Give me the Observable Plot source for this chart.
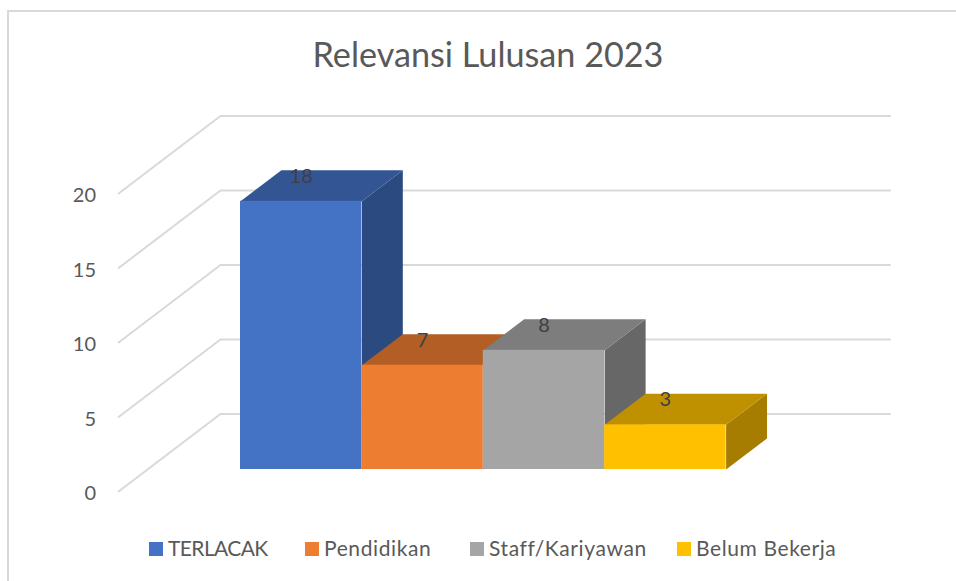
<!DOCTYPE html>
<html>
<head>
<meta charset="utf-8">
<script src="https://cdn.jsdelivr.net/npm/d3@7"></script>
<script src="https://cdn.jsdelivr.net/npm/@observablehq/plot@0.6"></script>
<style>
  html, body { margin: 0; padding: 0; background: #fff; }
  #frame { position: absolute; left: 7px; top: 10px; width: 949px; height: 571px;
           box-sizing: border-box; border-top: 2px solid #d9d9d9; border-left: 2px solid #d9d9d9; overflow: hidden; }
  #stage { position: absolute; left: 0; top: 0; width: 956px; height: 581px; font-family: Lato, sans-serif; color: #595959; }
  #title { position: absolute; left: 0; top: 32px; width: 976px; text-align: center; font-size: 34.2px; line-height: 44px; }
  #chart { position: absolute; left: 0; top: 91px; }
  #legend { position: absolute; left: 149px; top: 534px; height: 30px; font-size: 21px; line-height: 30px; white-space: nowrap; }
  #legend span { position: absolute; top: 0; display: flex; align-items: center; letter-spacing: .6px; }
  #legend span:first-child { letter-spacing: -.6px; }
  #legend i { display: inline-block; width: 14px; height: 14px; margin-right: 5px; }
  #legend b { font-weight: 400; position: relative; top: -1px; }
</style>
</head>
<body>
<div id="frame"></div>
<div id="stage">
  <div id="title">Relevansi Lulusan 2023</div>
  <div id="chart"></div>
  <div id="legend"></div>
</div>
<script>
const categories = ["TERLACAK", "Pendidikan", "Staff/Kariyawan", "Belum Bekerja"];
const values = [18, 7, 8, 3];
const frontColors = ["#4472c4", "#ed7d31", "#a5a5a5", "#ffc000"];
const topColors = ["#345593", "#b25e24", "#7d7d7d", "#bf9000"];
const sideColors = ["#2b4a80", "#9a5120", "#676767", "#a67d00"];
const yTicks = [0, 5, 10, 15, 20];
const legendLefts = [0, 156, 321, 528];

// Oblique depth of the bars and of the floor, in axis units
const barDX = 0.337, barDY = 2.08;
const wallFrontX = -1.004, wallFrontDY = -1.476, wallBackX = -0.165, wallBackDY = 3.73, wallEndX = 5.35;
const tickLabelX = -1.19, labelLift = 1.67;

const bars = categories.map((category, i) => ({category, i, value: values[i]}));

const marks = [];
yTicks.forEach(v => {
  marks.push(Plot.line(
    [[wallFrontX, v + wallFrontDY], [wallBackX, v + wallBackDY], [wallEndX, v + wallBackDY]],
    {x: d => d[0], y: d => d[1], stroke: "#d9d9d9", strokeWidth: 2}
  ));
});
bars.forEach(b => {
  const l = b.i, r = b.i + 1, v = b.value;
  marks.push(Plot.line(
    [[r, 0], [r + barDX, barDY], [r + barDX, v + barDY], [r, v]],
    {x: d => d[0], y: d => d[1], fill: sideColors[b.i], stroke: "none"}
  ));
  marks.push(Plot.line(
    [[l, v], [l + barDX, v + barDY], [r + barDX, v + barDY], [r, v]],
    {x: d => d[0], y: d => d[1], fill: topColors[b.i], stroke: "none"}
  ));
  marks.push(Plot.rect([b], {x1: d => d.i, x2: d => d.i + 1, y1: 0, y2: d => d.value, fill: frontColors[b.i]}));
});
marks.push(Plot.text(bars, {
  x: d => d.i + 0.5, y: d => d.value + labelLift, text: d => String(d.value),
  fill: "#404040", fontSize: 20, textAnchor: "middle"
}));
marks.push(Plot.text(yTicks, {
  x: () => tickLabelX, y: d => d + wallFrontDY - 0.15, text: d => String(d),
  fill: "#595959", fontSize: 20, textAnchor: "end"
}));

const plot = Plot.plot({
  width: 956, height: 420,
  margin: 0,
  x: {type: "linear", domain: [0, 4], range: [240, 725.6], axis: null},
  y: {type: "linear", domain: [0, 20], range: [378, 80], axis: null},
  style: {background: "transparent", fontFamily: "Lato, sans-serif"},
  marks
});
document.getElementById("chart").append(plot);

const legend = document.getElementById("legend");
categories.forEach((c, i) => {
  const s = document.createElement("span");
  s.style.left = legendLefts[i] + "px";
  const sw = document.createElement("i");
  sw.style.background = frontColors[i];
  const t = document.createElement("b");
  t.textContent = c;
  s.append(sw, t);
  legend.append(s);
});
</script>
</body>
</html>
